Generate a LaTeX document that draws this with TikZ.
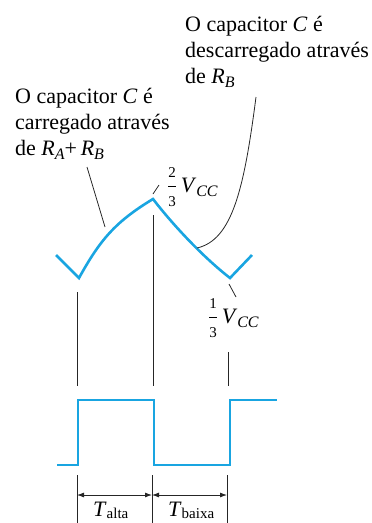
\documentclass[tikz,border=0pt]{standalone}
\usepackage{amsmath}
\usepackage{fontspec}
\setmainfont{LiberationSerif-Regular.ttf}[ItalicFont=LiberationSerif-Italic.ttf, BoldFont=LiberationSerif-Bold.ttf]
\usetikzlibrary{arrows.meta}
\definecolor{wavecol}{RGB}{25,165,225}
\newcommand\lsub[1]{\raisebox{-4pt}{\fontsize{16}{16}\selectfont #1}}
\newcommand\bsub[1]{\raisebox{-2.5pt}{\fontsize{15}{15}\selectfont #1}}
\begin{document}
\begin{tikzpicture}[x=1pt,y=-1pt,
  font=\fontsize{22}{26}\selectfont\rmfamily,
  wave/.style={draw=wavecol, line width=2.6pt, line join=miter},
  guide/.style={draw=black!85, line width=0.8pt},
  lbl/.style={inner sep=0pt, anchor=base west},
  dimline/.style={guide, {Latex[length=7pt,width=5pt]}-{Latex[length=7pt,width=5pt]}}]
\useasboundingbox (0,0) rectangle (372,523);

% texts
\node[lbl] (d1) at (185,31) {O capacitor \textit{C} é};
\node[lbl] (d2) at (185,57) {descarregado através};
\node[lbl] (d3) at (185,83) {de \textit{R}\lsub{\textit{B}}};
\node[lbl] (c1) at (15,103) {O capacitor \textit{C} é};
\node[lbl] (c2) at (15,129) {carregado através};
\node[lbl] (c3) at (15,155) {de \textit{R}\lsub{\textit{A}}+\,\textit{R}\lsub{\textit{B}}};
\node[lbl] (v2) at (167,192) {$\dfrac{\text{\fontsize{15}{15}\selectfont 2}}{\text{\fontsize{15}{15}\selectfont 3}}$\,\textit{V}\lsub{\textit{CC}}};
\node[lbl] (v1) at (208,323) {$\dfrac{\text{\fontsize{15}{15}\selectfont 1}}{\text{\fontsize{15}{15}\selectfont 3}}$\,\textit{V}\lsub{\textit{CC}}};

% capacitor waveform
\coordinate (w0) at (56,255);
\coordinate (m1) at (79,278);
\coordinate (pk) at (153,199);
\coordinate (m2) at (230,278);
\coordinate (w1) at (252,255);
\draw[wave] (w0) -- (m1) .. controls (100,240) and (115,222) .. (pk)
  .. controls (173,225) and (203,257) .. (m2) -- (w1);

% leaders
\coordinate (la) at (87,167);
\coordinate (lb) at (105,227);
\draw[guide] (la) -- (lb);
\coordinate (ra) at (256,97);
\coordinate (rb) at (197,248);
\draw[guide] (ra) .. controls (244,190) and (232,240) .. (rb);
\coordinate (t2a) at (153,194);
\coordinate (t2b) at (159,185);
\draw[guide] (t2a) -- (t2b);
\coordinate (t1a) at (229,284);
\coordinate (t1b) at (236,297);
\draw[guide] (t1a) -- (t1b);

% vertical guides
\coordinate (g1t) at (77,292);  \coordinate (g1b) at (77,386);
\coordinate (g2t) at (153,215); \coordinate (g2b) at (153,386);
\coordinate (g3t) at (228,352); \coordinate (g3b) at (228,386);
\draw[guide] (g1t) -- (g1b);
\draw[guide] (g2t) -- (g2b);
\draw[guide] (g3t) -- (g3b);

% square wave
\coordinate (s0) at (57,465);
\coordinate (s1) at (78,400);
\coordinate (s2) at (154,465);
\coordinate (s3) at (230,400);
\coordinate (s4) at (277,400);
\draw[wave] (s0) -| (s1) -| (s2) -| (s3) -- (s4);

% dimension
\coordinate (k1t) at (77,475); \coordinate (k1b) at (77,530);
\coordinate (k2t) at (152,475); \coordinate (k2b) at (152,530);
\coordinate (k3t) at (227,475); \coordinate (k3b) at (227,530);
\draw[guide] (k1t) -- (k1b);
\draw[guide] (k2t) -- (k2b);
\draw[guide] (k3t) -- (k3b);
\coordinate (a1) at (77,495);
\coordinate (a2) at (152,495);
\coordinate (a3) at (227,495);
\draw[dimline] (a1) -- (a2);
\draw[dimline] (a2) -- (a3);
\node[lbl] (ta) at (93,516) {\textit{T}\bsub{alta}};
\node[lbl] (tb) at (168,516) {\textit{T}\bsub{baixa}};
\end{tikzpicture}
\end{document}
